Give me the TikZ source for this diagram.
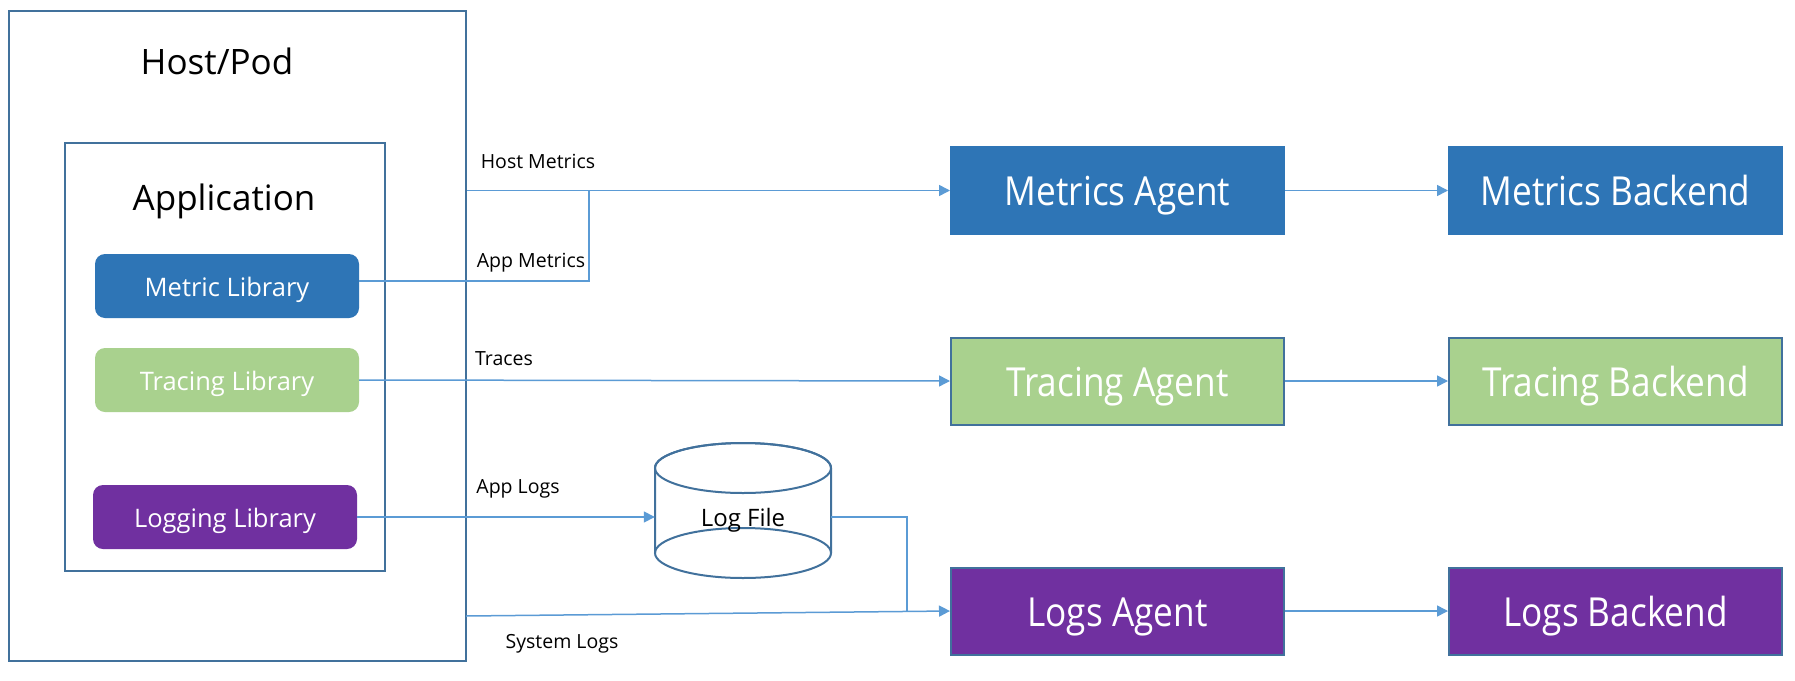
\documentclass[tikz,border=0pt]{standalone}
\usepackage{fontspec}
\setmainfont{Open Sans}
\usetikzlibrary{arrows.meta}
\definecolor{cblue}{HTML}{2E75B6}
\definecolor{cgreen}{HTML}{A9D18E}
\definecolor{cpurple}{HTML}{7030A0}
\definecolor{cborder}{HTML}{41719C}
\definecolor{cline}{HTML}{5B9BD5}
\newcommand{\cond}[1]{\scalebox{0.88}[1]{#1}}
\begin{document}
\begin{tikzpicture}[x=1pt,y=-1pt,
  frame/.style={draw=cborder,line width=2.2pt,inner sep=0pt},
  lib/.style={rounded corners=10pt,minimum width=264pt,minimum height=64pt,inner sep=0pt,text=white,font=\fontsize{25.5}{28}\selectfont,text height=26.5pt,text depth=6.1pt},
  agent/.style={draw=#1,line width=2pt,minimum width=333pt,minimum height=87pt,inner sep=0pt,text=white,font=\fontsize{40}{44}\selectfont,text height=40pt,text depth=9.6pt},
  title/.style={font=\fontsize{35}{40}\selectfont,inner sep=0pt},
  lbl/.style={font=\fontsize{19.5}{22}\selectfont,inner sep=0pt},
  conn/.style={draw=cline,line width=1.5pt},
  arr/.style={conn,-{Triangle[length=11pt,width=11pt]}}]
\useasboundingbox (0,0) rectangle (1795,680);
\fill[white] (0,0) rectangle (1795,680);
% containers
\node[frame,minimum width=457pt,minimum height=650pt] (host) at (237.5,336) {};
\node[title] (hostlbl) at (217,61) {Host/Pod};
\node[frame,minimum width=320pt,minimum height=428pt] (app) at (225,357) {};
\node[title] (applbl) at (224,201) {Application};
% libraries
\node[lib,fill=cblue] (mlib) at (227,286) {Metric Library};
\node[lib,fill=cgreen] (tlib) at (227,380) {Tracing Library};
\node[lib,fill=cpurple] (llib) at (225,517) {Logging Library};
% agents and backends
\node[agent=cblue,fill=cblue] (magent) at (1117.5,190.5) {\cond{Metrics Agent}};
\node[agent=cblue,fill=cblue] (mback) at (1615.5,190.5) {\cond{Metrics Backend}};
\node[agent=cborder,fill=cgreen] (tagent) at (1117.5,381) {\cond{Tracing Agent}};
\node[agent=cborder,fill=cgreen] (tback) at (1615.5,381) {\cond{Tracing Backend}};
\node[agent=cborder,fill=cpurple] (lagent) at (1117.5,611) {\cond{Logs Agent}};
\node[agent=cborder,fill=cpurple] (lback) at (1615.5,611) {\cond{Logs Backend}};
% log file cylinder
\node[minimum width=176pt,minimum height=135pt,inner sep=0pt] (logfile) at (743,511) {};
\draw[draw=cborder,line width=2pt,fill=white] (655,553) -- (655,468) arc[start angle=180,end angle=360,x radius=88,y radius=25] -- (831,553);
\draw[draw=cborder,line width=2pt] (743,468) ellipse[x radius=88,y radius=25];
\draw[draw=cborder,line width=2pt] (743,553) ellipse[x radius=88,y radius=25];
\node[font=\fontsize{24}{28}\selectfont,inner sep=0pt] (logtxt) at (743,520) {Log File};
% junction coordinates
\coordinate (am) at (589,191);
\coordinate (sl) at (466,616);
\coordinate (lj) at (907,612);
% connectors
\draw[arr] (host.east |- magent.west) -- (magent.west);
\draw[conn] ([yshift=5pt]mlib.east) -| (am);
\draw[arr] (tlib.east) -- (tagent.west);
\draw[arr] (llib.east) -- (llib.east -| logfile.west);
\draw[conn] (logfile.east |- llib.east) -| (lj);
\draw[arr] (sl) -- (lagent.west);
\draw[arr] (magent.east) -- (mback.west);
\draw[arr] (tagent.east) -- (tback.west);
\draw[arr] (lagent.east) -- (lback.west);
% labels
\node[lbl] (hmlbl) at (538,161) {Host Metrics};
\node[lbl] (amlbl) at (531,263) {App Metrics};
\node[lbl] (trlbl) at (504,359) {Traces};
\node[lbl] (allbl) at (518,489) {App Logs};
\node[lbl] (sllbl) at (562,644) {System Logs};
\end{tikzpicture}
\end{document}
